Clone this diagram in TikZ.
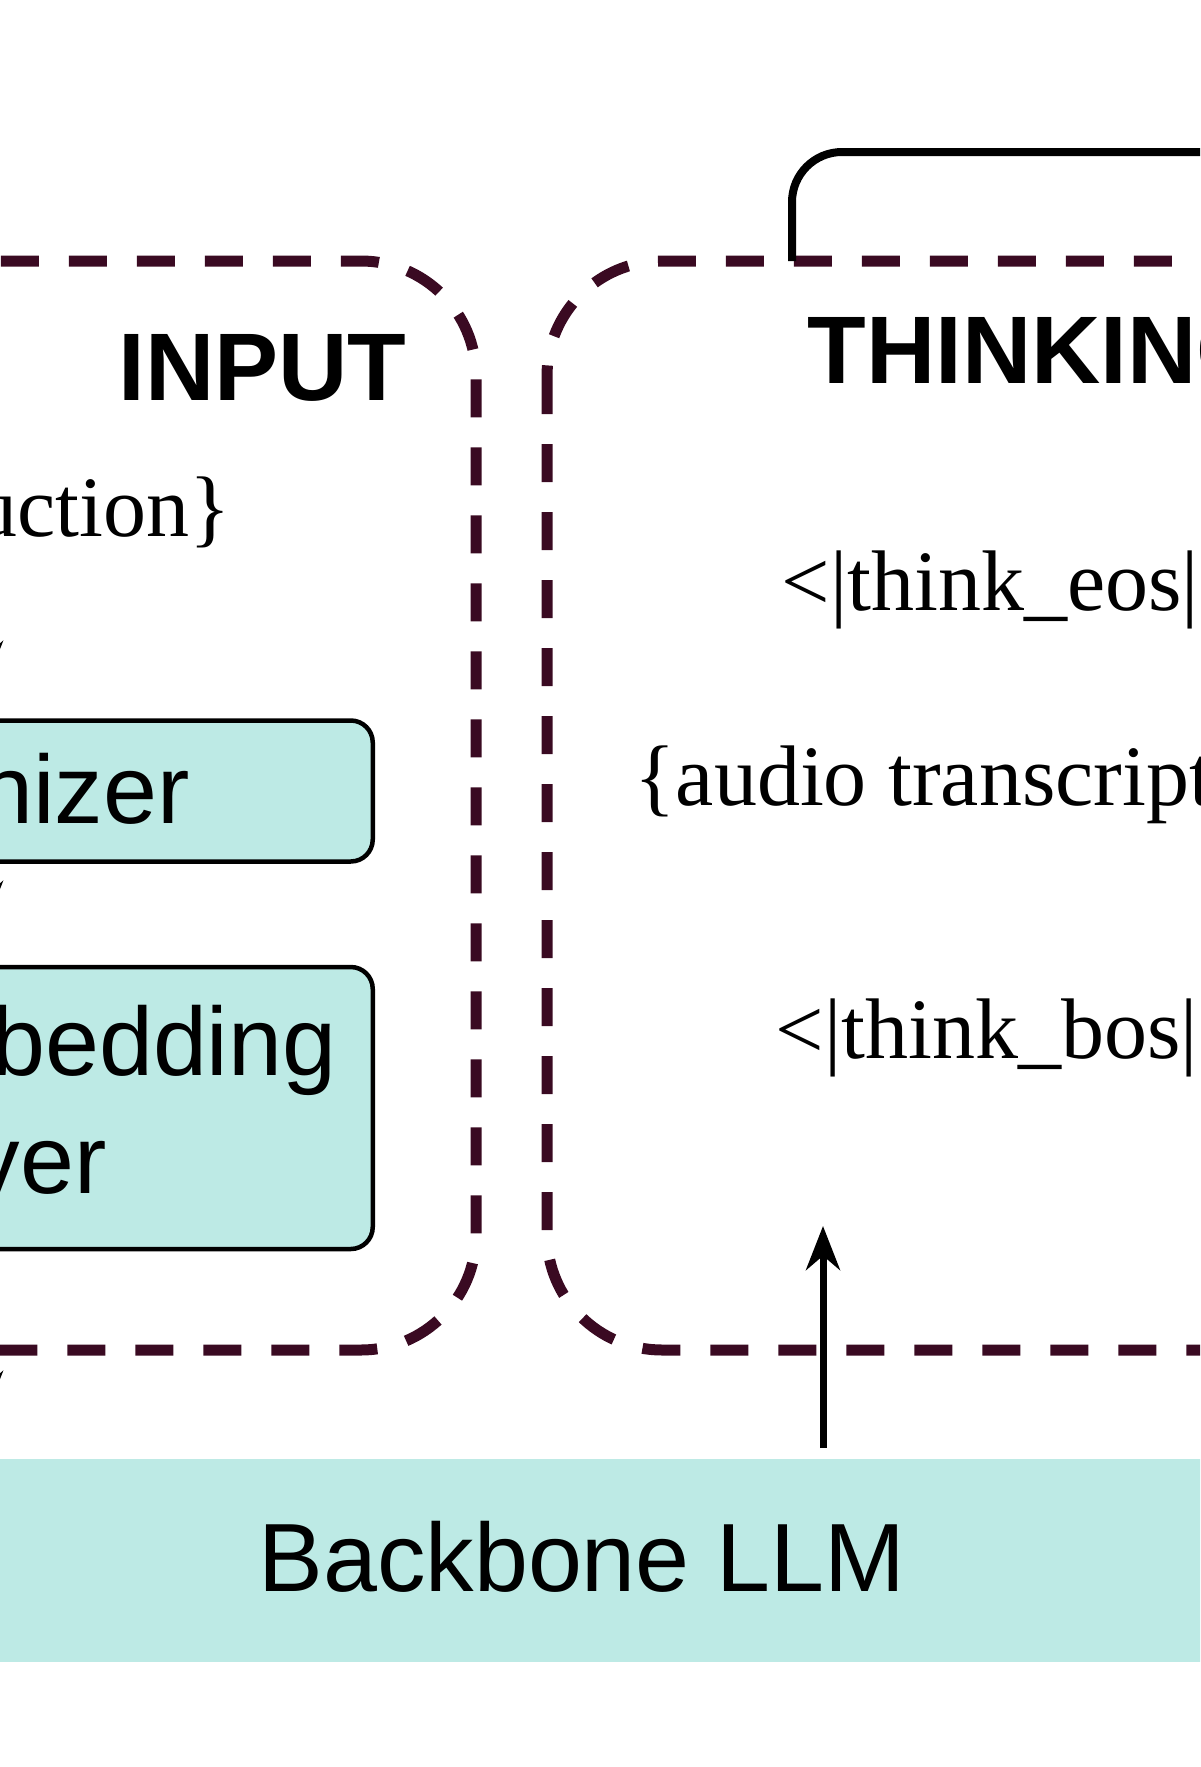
\documentclass[tikz,border=0pt]{standalone}
\usepackage{fontspec}
\setmainfont{Liberation Serif}
\newfontfamily\sansf{Liberation Sans}
\usetikzlibrary{arrows.meta}
\definecolor{teal1}{HTML}{BDEAE5}
\definecolor{dashc}{HTML}{3A0A22}
\begin{document}
\begin{tikzpicture}[x=1pt,y=-1pt,
  grp/.style={draw=dashc,line width=11pt,dash pattern=on 38pt off 30pt,rounded corners=115pt},
  blk/.style={draw=black,fill=teal1,line width=4.5pt,rounded corners=22pt},
  sans/.style={font=\sansf\fontsize{97}{104}\selectfont},
  ttl/.style={font=\sansf\bfseries\fontsize{96}{104}\selectfont},
  ser/.style={font=\fontsize{86}{96}\selectfont},
  arr/.style={line width=7pt,-{Stealth[length=44pt,width=34pt]}}]
\useasboundingbox (0,0) rectangle (1200,1767);
\clip (0,0) rectangle (1200,1767);
% groups
\draw[grp] (-300,261) rectangle (476,1350);
\draw[grp] (547,261) rectangle (1500,1350);
% input side
\node[ttl,anchor=east] (inp) at (410,368) {INPUT};
\node[ser,anchor=east] (instr) at (234,512) {\{instruction\}};
\node[blk,minimum height=141pt,minimum width=500pt,anchor=east] (tok) at (375,791) {};
\node[sans,anchor=east] (tokt) at (193,789) {Tokenizer};
\node[blk,minimum height=282pt,minimum width=500pt,anchor=east] (emb) at (375,1108) {};
\node[sans,anchor=east] (embt1) at (340,1050) {Embedding};
\node[sans,anchor=east] (embt2) at (110,1170) {Layer};
\coordinate (a1s) at (-14,630); \coordinate (a1e) at (-14,685);
\coordinate (a2s) at (-14,870); \coordinate (a2e) at (-14,925);
\coordinate (a3s) at (-14,1370); \coordinate (a3e) at (-14,1415);
\draw[arr] (a1s) -- (a1e);
\draw[arr] (a2s) -- (a2e);
\draw[arr] (a3s) -- (a3e);
% thinking side
\node[ttl,anchor=west] (thk) at (804,350) {THINKING};
\node[ser,anchor=west] (eos) at (778,590) {<|think\_eos|>};
\node[ser,anchor=west] (aud) at (631,785) {\{audio transcription\}};
\node[ser,anchor=west] (bos) at (772,1038) {<|think\_bos|>};
\coordinate (top) at (792,261);
\coordinate (topr) at (1300,152);
\draw[line width=8pt,rounded corners=50pt] (top) |- (topr);
% backbone
\node[fill=teal1,minimum width=1400pt,minimum height=203pt,anchor=north west,inner sep=0] (llm) at (0,1459) {};
\node[sans] (llmt) at (582,1557) {Backbone LLM};
\coordinate (ae) at (823,1226);
\draw[arr] (823,1448) -- (ae);
\end{tikzpicture}
\end{document}
